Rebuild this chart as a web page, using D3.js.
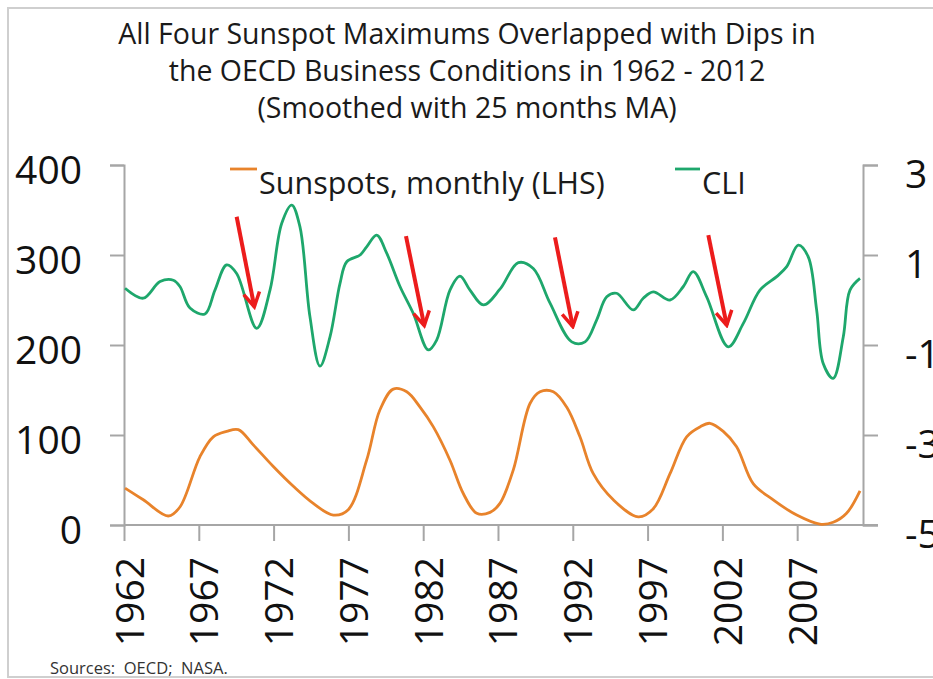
<!DOCTYPE html>
<html>
<head>
<meta charset="utf-8">
<script src="https://cdn.jsdelivr.net/npm/d3@7/dist/d3.min.js"></script>
<style>
  body { margin: 0; background: #fff; }
  svg { display: block; font-family: "Open Sans", sans-serif; }
</style>
</head>
<body>
<div id="chart"></div>
<script>
// Sunspots vs OECD CLI, both smoothed with 25 months MA

// [year, sunspot number]
const sunspots = [
  [1962.07, 41], [1963.29, 28], [1964.96, 10], [1965.74, 20], [1967.08, 76],
  [1967.97, 98], [1968.86, 104], [1969.64, 106], [1970.64, 89], [1971.98, 65],
  [1973.32, 43], [1974.65, 24], [1975.99, 11], [1976.99, 17], [1978.22, 72],
  [1979.11, 128], [1980.0, 151], [1980.9, 148], [1981.79, 131], [1982.68, 109],
  [1983.79, 72], [1984.68, 35], [1985.58, 13], [1986.47, 14], [1987.13, 24],
  [1988.02, 61], [1989.14, 135], [1989.81, 148], [1990.7, 148], [1991.59, 131],
  [1992.48, 98], [1993.37, 57], [1994.71, 28], [1996.38, 9], [1997.38, 18],
  [1998.5, 57], [1999.61, 98], [2000.5, 109], [2001.17, 113], [2002.06, 104],
  [2002.95, 87], [2004.06, 46], [2005.4, 28], [2006.97, 11], [2008.52, 1],
  [2009.41, 3], [2010.3, 13], [2011.2, 38]
];

// [year, CLI]
const cli = [
  [1962.07, 0.26], [1963.29, 0.04], [1964.41, 0.41], [1965.3, 0.44], [1965.74, 0.3],
  [1966.41, -0.18], [1967.41, -0.31], [1968.08, 0.22], [1968.86, 0.78], [1969.53, 0.59],
  [1970.87, -0.63], [1971.76, 0.22], [1972.54, 1.7], [1973.21, 2.11], [1973.76, 1.63],
  [1974.43, -0.37], [1975.1, -1.47], [1975.77, -0.82], [1976.44, 0.37], [1976.89, 0.85],
  [1977.78, 1.0], [1978.22, 1.18], [1978.89, 1.44], [1979.56, 1.04], [1980.45, 0.3],
  [1981.34, -0.3], [1982.34, -1.11], [1982.9, -0.89], [1983.79, 0.22], [1984.46, 0.53],
  [1985.13, 0.22], [1986.02, -0.11], [1987.13, 0.24], [1988.36, 0.83], [1989.36, 0.7],
  [1990.48, -0.07], [1991.93, -0.93], [1992.82, -0.93], [1993.6, -0.44], [1994.27, 0.07],
  [1994.93, 0.15], [1996.04, -0.22], [1996.71, 0.04], [1997.38, 0.18], [1998.5, 0.0],
  [1999.39, 0.3], [2000.05, 0.63], [2000.95, 0.07], [2002.39, -1.04], [2003.4, -0.52],
  [2004.51, 0.22], [2005.63, 0.52], [2006.3, 0.74], [2007.07, 1.22], [2007.74, 0.96],
  [2008.3, -0.22], [2008.74, -1.41], [2009.41, -1.74], [2010.08, -0.82], [2010.53, 0.22],
  [2011.2, 0.48]
];

// red arrows pointing at the CLI dips, [year, CLI]
const arrowTails = [[1969.53, 1.85], [1980.85, 1.42], [1990.81, 1.39], [2001.06, 1.44]];
const arrowTips = [[1970.71, -0.15], [1982.07, -0.57], [1992.0, -0.59], [2002.29, -0.56]];

const yearTicks = [1962, 1967, 1972, 1977, 1982, 1987, 1992, 1997, 2002, 2007];
const leftTicks = [0, 100, 200, 300, 400];
const rightTicks = [-5, -3, -1, 1, 3];
const xDomain = [1962, 2011.4];

const titleLines = [
  'All Four Sunspot Maximums Overlapped with Dips in',
  'the OECD Business Conditions in 1962 - 2012',
  '(Smoothed with 25 months MA)'
];
const legendItems = [
  { label: 'Sunspots, monthly (LHS)', color: '#e8832b' },
  { label: 'CLI', color: '#1ea76c' }
];
const source = 'Sources:  OECD;  NASA.';

const width = 933, height = 679;
const plot = { left: 124, right: 863, top: 165, bottom: 525 };
const axisColor = '#a6a6a6';
const tickFont = 39;

const svg = d3.select('#chart').append('svg')
  .attr('width', width)
  .attr('height', height);

// outer frame
svg.append('rect')
  .attr('x', 8).attr('y', 8)
  .attr('width', 1000).attr('height', 669)
  .attr('fill', 'none')
  .attr('stroke', '#cfcfcf')
  .attr('stroke-width', 2);

const x = d3.scaleLinear().domain(xDomain).range([plot.left, plot.right]);
const yL = d3.scaleLinear().domain([0, 400]).range([plot.bottom, plot.top]);
const yR = d3.scaleLinear().domain([-5, 3]).range([plot.bottom, plot.top]);

// title
svg.append('g').selectAll('text')
  .data(titleLines)
  .join('text')
  .attr('x', 467)
  .attr('y', (d, i) => 44 + i * 37)
  .attr('text-anchor', 'middle')
  .attr('font-size', 28.5)
  .attr('fill', '#1a1a1a')
  .text(d => d);

// axes
function styleAxis(g) {
  g.select('.domain').attr('stroke', axisColor).attr('stroke-width', 2);
  g.selectAll('.tick line').attr('stroke', axisColor).attr('stroke-width', 2);
  g.selectAll('.tick text').attr('font-size', tickFont).attr('fill', '#111')
    .attr('font-family', '"Open Sans", sans-serif');
}

svg.append('g')
  .attr('transform', `translate(${plot.left},0)`)
  .call(d3.axisLeft(yL).tickValues(leftTicks).tickFormat(d => String(d))
    .tickSize(14).tickSizeOuter(14).tickPadding(28))
  .call(styleAxis)
  .call(g => g.selectAll('.tick text').attr('dy', 18));

svg.append('g')
  .attr('transform', `translate(${plot.right},0)`)
  .call(d3.axisRight(yR).tickValues(rightTicks).tickFormat(d => String(d))
    .tickSize(15).tickSizeOuter(15).tickPadding(27))
  .call(styleAxis)
  .call(g => g.selectAll('.tick text').attr('dy', 22));

const xAxis = svg.append('g')
  .attr('transform', `translate(0,${plot.bottom})`)
  .call(d3.axisBottom(x).tickValues(yearTicks).tickFormat(d => String(d)).tickSize(16).tickSizeOuter(0))
  .call(styleAxis);
xAxis.select('.domain').attr('d', `M${plot.left},0H${plot.right + 15}`);
xAxis.selectAll('.tick text')
  .attr('text-anchor', 'end')
  .attr('transform', 'translate(0,32) rotate(-90)')
  .attr('x', 0)
  .attr('y', 0)
  .attr('dy', 19);

// lines
const curve = d3.curveCatmullRom.alpha(0.5);
svg.append('path')
  .datum(sunspots)
  .attr('fill', 'none')
  .attr('stroke', legendItems[0].color)
  .attr('stroke-width', 2.8)
  .attr('stroke-linejoin', 'round')
  .attr('d', d3.line().x(d => x(d[0])).y(d => yL(d[1])).curve(curve));

svg.append('path')
  .datum(cli)
  .attr('fill', 'none')
  .attr('stroke', legendItems[1].color)
  .attr('stroke-width', 2.8)
  .attr('stroke-linejoin', 'round')
  .attr('d', d3.line().x(d => x(d[0])).y(d => yR(d[1])).curve(curve));

// arrows
svg.append('defs').append('marker')
  .attr('id', 'head')
  .attr('viewBox', '0 0 20 20')
  .attr('markerUnits', 'userSpaceOnUse')
  .attr('markerWidth', 20).attr('markerHeight', 20)
  .attr('refX', 17).attr('refY', 10)
  .attr('orient', 'auto')
  .append('path')
  .attr('d', 'M3,2 L17,10 L3,18')
  .attr('fill', 'none')
  .attr('stroke', '#ec1c1c')
  .attr('stroke-width', 3.5);

svg.append('g').selectAll('line')
  .data(arrowTails)
  .join('line')
  .attr('x1', d => x(d[0])).attr('y1', d => yR(d[1]))
  .attr('x2', (d, i) => x(arrowTips[i][0])).attr('y2', (d, i) => yR(arrowTips[i][1]))
  .attr('stroke', '#ec1c1c')
  .attr('stroke-width', 4)
  .attr('marker-end', 'url(#head)');

// legend
const legend = svg.append('g').attr('transform', 'translate(230,169)');
const lg0 = legend.append('g');
lg0.append('line').attr('x1', 0).attr('x2', 27).attr('y1', 0).attr('y2', 0)
  .attr('stroke', legendItems[0].color).attr('stroke-width', 2.8);
lg0.append('text').attr('x', 29).attr('y', 25).attr('font-size', 30.5).attr('fill', '#1a1a1a')
  .text(legendItems[0].label);
const lg1 = legend.append('g').attr('transform', 'translate(445,0)');
lg1.append('line').attr('x1', 0).attr('x2', 25).attr('y1', 0).attr('y2', 0)
  .attr('stroke', legendItems[1].color).attr('stroke-width', 2.8);
lg1.append('text').attr('x', 27).attr('y', 25).attr('font-size', 30.5).attr('fill', '#1a1a1a')
  .text(legendItems[1].label);

// source note
svg.append('text')
  .attr('x', 50).attr('y', 674)
  .attr('font-size', 16.5)
  .attr('fill', '#333')
  .style('white-space', 'pre')
  .text(source);
</script>
</body>
</html>
